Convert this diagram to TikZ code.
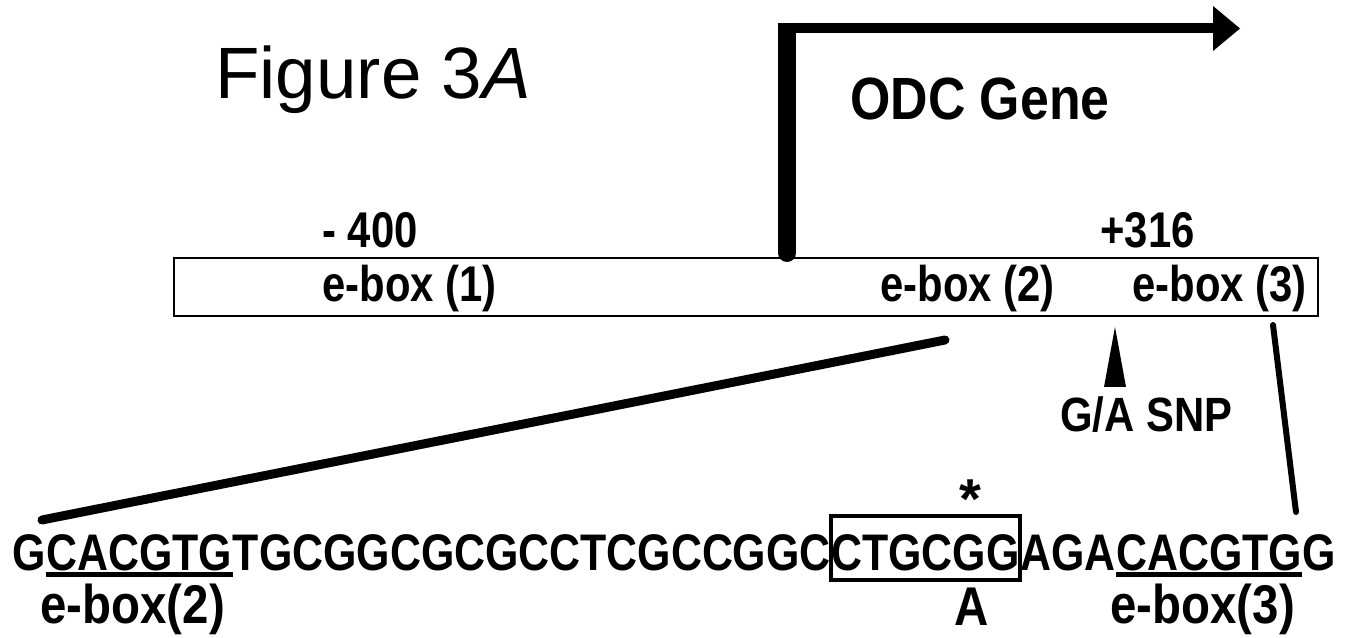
\documentclass[tikz,border=0pt]{standalone}
\usepackage{fontspec}
\usepackage{graphicx}
\setmainfont{Liberation Sans}
\newcommand{\tallA}[1]{\scalebox{1}[1.2]{#1}}
\newcommand{\tallB}[1]{\scalebox{1}[1.15]{#1}}
\begin{document}
\begin{tikzpicture}[x=0.02cm,y=-0.02cm,
  lbl/.style={inner sep=0, anchor=base west, font=\fontsize{23.8}{28}\selectfont\bfseries},
  seq/.style={inner sep=0, anchor=base west, font=\fontsize{24.4}{28}\selectfont\bfseries},
  bot/.style={inner sep=0, anchor=base west, font=\fontsize{27}{30}\selectfont\bfseries},
  zoomline/.style={line cap=round}]
\useasboundingbox (0,0) rectangle (1353,638);
% title
\node[inner sep=0, anchor=base west, font=\fontsize{41.4}{48}\selectfont] (title) at (215,99) {Figure 3\textit{A}};
% gene box
\node[draw, line width=0.04cm, inner sep=0, minimum width=22.88cm, minimum height=1.16cm, anchor=north west] (gene) at (173,257) {};
% promoter arrow
\coordinate (pbot) at (787,253);
\coordinate (ptop) at (787,32);
\coordinate (pcorner) at (778,23);
\coordinate (pend) at (1213,33);
\draw[line width=0.36cm, line cap=round] (pbot) -- (ptop);
\fill (pcorner) rectangle (pend);
\fill (1213,6) -- (1240,28.5) -- (1213,51) -- cycle;
\node[inner sep=0, anchor=base west, font=\fontsize{29.5}{34}\selectfont\bfseries] (odc) at (850,120) {\tallB{ODC Gene}};
% labels
\node[lbl] (m400) at (322,248) {\tallA{- 400}};
\node[lbl] (p316) at (1100,248) {\tallA{+316}};
\node[lbl] (e1) at (322,302) {\tallA{e-box (1)}};
\node[lbl] (e2) at (880,302) {\tallA{e-box (2)}};
\node[lbl] (e3) at (1132,302) {\tallA{e-box (3)}};
% SNP
\fill (1115,327) -- (1126,387) -- (1104,387) -- cycle;
\node[lbl] (snp) at (1060,432) {\tallB{G/A SNP}};
% sequence
\node[seq] (s1) at (12,570) {\tallA{G}};
\node[seq] (s2) at (s1.base east) {\tallA{CACGTG}};
\node[seq] (s3) at (s2.base east) {\tallA{TGCGGCGCGCCTCGCCGGC}};
\node[seq] (s4) at (s3.base east) {\tallA{CTGCGG}};
\node[seq] (s5) at (s4.base east) {\tallA{AGA}};
\node[seq] (s6) at (s5.base east) {\tallA{CACGTG}};
\node[seq] (s7) at (s6.base east) {\tallA{G}};
\draw[line width=0.1cm] ([yshift=-0.1cm]s2.base west) -- ([yshift=-0.1cm]s2.base east);
\draw[line width=0.1cm] ([yshift=-0.1cm]s6.base west) -- ([yshift=-0.1cm]s6.base east);
\draw[line width=0.09cm] ([yshift=-0.2cm]s4.base west) rectangle ([yshift=1.08cm]s4.base east);
\node[inner sep=0, anchor=base, font=\fontsize{32}{36}\selectfont\bfseries] (star) at (970,519) {*};
\node[inner sep=0, anchor=base, font=\fontsize{27}{30}\selectfont\bfseries] (alt) at (972,625) {\tallB{A}};
\node[bot] (l2) at (40,623) {\tallB{e-box(2)}};
\node[bot] (l3) at (1110,623) {\tallB{e-box(3)}};
% zoom lines
\coordinate (z1a) at (945,340);
\coordinate (z1b) at (42,520);
\coordinate (z2a) at (1273,325);
\coordinate (z2b) at (1296,512);
\draw[zoomline, line width=0.18cm] (z1a) -- (z1b);
\draw[zoomline, line width=0.12cm] (z2a) -- (z2b);
\end{tikzpicture}
\end{document}
